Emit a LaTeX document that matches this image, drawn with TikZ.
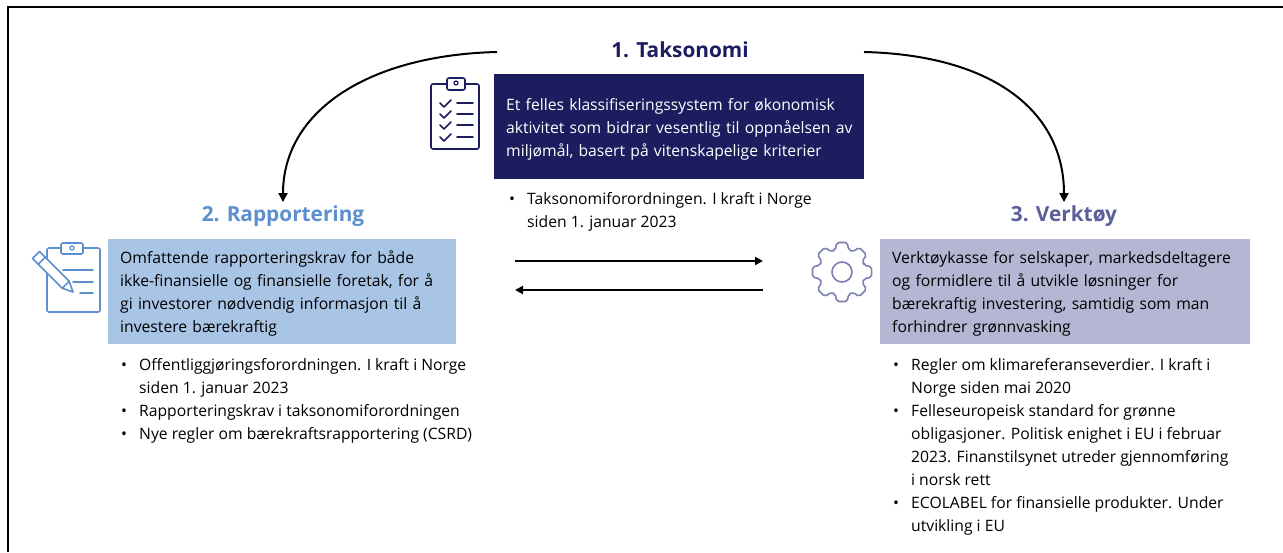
\documentclass[tikz,border=0pt]{standalone}
\usepackage{fontspec}
\setmainfont{Open Sans}
\usetikzlibrary{arrows.meta}
\definecolor{taxnavy}{HTML}{1C1D5E}
\definecolor{rapblue}{HTML}{5B8FD0}
\definecolor{rapfill}{HTML}{A9C5E5}
\definecolor{verkpurple}{HTML}{5A5E99}
\definecolor{verkfill}{HTML}{B4B6D3}
\definecolor{gearcol}{HTML}{7B7EB3}
\newcommand{\bul}{\makebox[18pt][l]{\textbullet}}
\newcommand{\ind}{\hspace*{18pt}}
\newcommand{\toprule}{\rule{0pt}{17pt}}
\tikzset{
	heading/.style={font=\fontsize{20.8}{24}\selectfont\bfseries},
	infobox/.style={anchor=north west, inner xsep=12pt, inner ysep=0pt, align=left, minimum height=105pt, text width=#1, font=\fontsize{15.7}{23}\selectfont},
	bullets/.style={anchor=north west, inner sep=0pt, align=left, font=\fontsize{15.7}{23}\selectfont},
	flow/.style={line width=2pt, -{Triangle[length=9pt,width=9pt]}},
	swap/.style={line width=2pt, -{Triangle[length=8pt,width=8pt]}},
	iconline/.style={line width=1.6pt, line join=round, line cap=round},
}

\begin{document}
\begin{tikzpicture}[x=1pt, y=-1pt]
		%%%%% START %%%%%
		\useasboundingbox (0, 0) rectangle (1283, 552);
		
		\draw[line width=2pt] (8, 552) -- (8, 7) -- (1283, 7);
		
		% 1. Taksonomi
		\node[heading, text=taxnavy] (taxtitle) at (680, 50) {1. Taksonomi};
		\node[infobox=346pt, fill=taxnavy, text=white] (taxbox) at (494, 74) {\toprule Et felles klassifiseringssystem for økonomisk\\\mbox{aktivitet som bidrar vesentlig til oppnåelsen av}\\miljømål, basert på vitenskapelige kriterier};
		\node[bullets] (taxlist) at (509, 192) {\bul Taksonomiforordningen. I kraft i Norge\\\ind siden 1. januar 2023};
		
		\draw[iconline, taxnavy, rounded corners=2pt] (431, 84) rectangle (479, 149);
		\draw[iconline, taxnavy, fill=white, rounded corners=2pt] (447, 78) rectangle (465, 90);
		\draw[line width=1.2pt, taxnavy] (456, 83) circle (2);
		\foreach \y in {103, 114, 125, 137} {
			\draw[iconline, taxnavy] (440, \y) -- (444, \y+4) -- (451, \y-3);
			\draw[iconline, taxnavy] (457, \y) -- (473, \y);
		}
		
		% 2. Rapportering
		\node[heading, text=rapblue] (raptitle) at (283, 216) {2. Rapportering};
		\node[infobox=324pt, fill=rapfill] (rapbox) at (108, 239) {\toprule Omfattende rapporteringskrav for både\\ikke-finansielle og finansielle foretak, for å\\gi investorer nødvendig informasjon til å\\investere bærekraftig};
		\node[bullets] (raplist) at (121, 358) {\bul Offentliggjøringsforordningen. I kraft i Norge\\\ind siden 1. januar 2023\\\bul Rapporteringskrav i taksonomiforordningen\\\bul Nye regler om bærekraftsrapportering (CSRD)};
		
		\draw[iconline, rapblue, rounded corners=2pt] (47, 248) rectangle (100, 312);
		\draw[iconline, rapblue, fill=white, rounded corners=2pt] (61, 243) rectangle (83, 254);
		\draw[line width=1.2pt, rapblue] (72, 248) circle (2);
		\draw[iconline, rapblue] (63, 270) -- (93, 270);
		\draw[iconline, rapblue] (73, 282) -- (93, 282);
		\draw[iconline, rapblue] (80, 293) -- (93, 293);
		\draw[iconline, rapblue, fill=white] (39.5, 251.5) -- (69.2, 281.2) -- (73, 292) -- (62.2, 288.2) -- (32.5, 258.5) -- cycle;
		\draw[iconline, rapblue] (45.2, 257.2) -- (38.2, 264.2);
		\draw[iconline, rapblue] (69.2, 281.2) -- (62.2, 288.2);
		
		% 3. Verktoy
		\node[heading, text=verkpurple] (verktitle) at (1064, 216) {3. Verktøy};
		\node[infobox=346pt, fill=verkfill] (verkbox) at (880, 239) {\toprule Verktøykasse for selskaper, markedsdeltagere\\og formidlere til å utvikle løsninger for\\bærekraftig investering, samtidig som man\\forhindrer grønnvasking};
		\node[bullets] (verklist) at (893, 358) {\bul Regler om klimareferanseverdier. I kraft i\\\ind Norge siden mai 2020\\\bul Felleseuropeisk standard for grønne\\\ind obligasjoner. Politisk enighet i EU i februar\\\ind 2023. Finanstilsynet utreder gjennomføring\\\ind i norsk rett\\\bul ECOLABEL for finansielle produkter. Under\\\ind utvikling i EU};
		
		\begin{scope}[shift={(842, 272)}]
			\draw[iconline, gearcol, rounded corners=2pt] (-17:23) \foreach \a in {0, 45, ..., 315} { -- (\a-17:23) -- (\a-10:30) -- (\a+10:30) -- (\a+17:23) } -- cycle;
			\draw[iconline, gearcol] (0, 0) circle (10);
		\end{scope}
		
		% connectors
		\coordinate (arcL) at (497, 52);
		\coordinate (arcR) at (864, 52);
		\draw[flow] (arcL) .. controls (370, 55) and (283, 110) .. (raptitle.north);
		\draw[flow] (arcR) .. controls (991, 55) and (1064, 110) .. (verktitle.north);
		
		\coordinate (fwdA) at (515, 261);
		\coordinate (fwdB) at (763, 261);
		\coordinate (backA) at (763, 290);
		\coordinate (backB) at (515, 290);
		\draw[swap] (fwdA) -- (fwdB);
		\draw[swap] (backA) -- (backB);
		
		%%%%% END %%%%%
	\end{tikzpicture}
\end{document}
